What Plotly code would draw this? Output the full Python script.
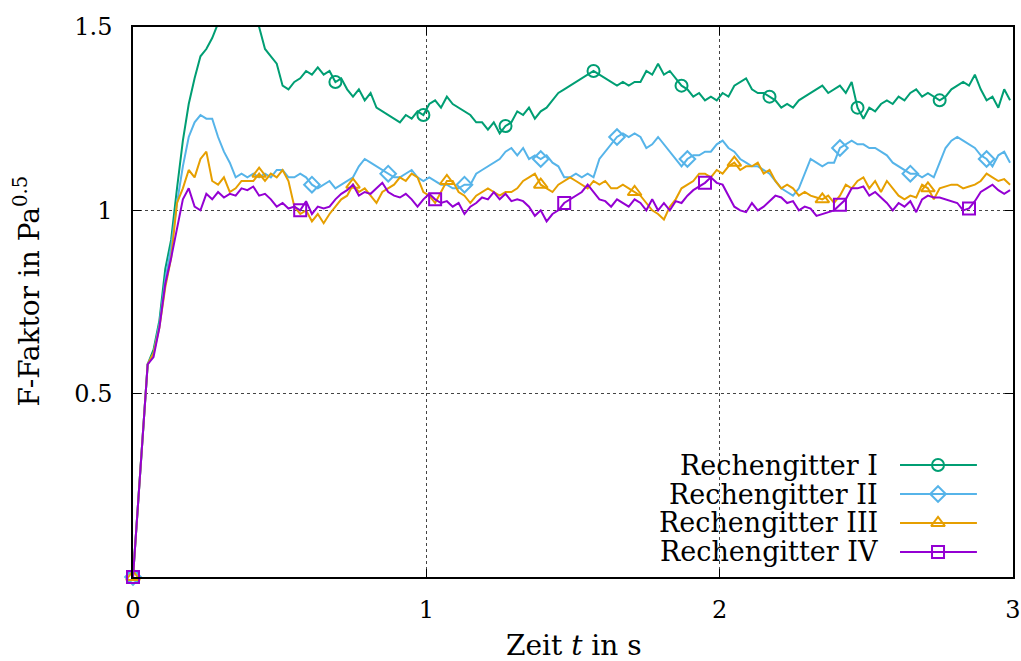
import numpy as np
import plotly.graph_objects as go

# ---------------- data ----------------
# sampling times: t=0 followed by a uniform 0.02 s grid starting at 0.05 s
g1 = [0.58,0.62,0.70,0.84,0.92,1.06,1.19,1.29,1.36,1.42,1.44,1.47,1.51,1.54,1.56,1.57,1.57,1.55,1.52,1.50,
      1.44,1.42,1.40,1.34,1.33,1.35,1.36,1.38,1.37,1.39,1.37,1.38,1.35,1.36,1.33,1.31,1.33,1.30,1.32,1.28,
      1.27,1.26,1.25,1.24,1.26,1.25,1.27,1.26,1.29,1.30,1.28,1.31,1.29,1.28,1.27,1.26,1.24,1.24,1.22,1.24,
      1.21,1.23,1.24,1.27,1.26,1.28,1.25,1.27,1.28,1.30,1.32,1.33,1.34,1.35,1.36,1.37,1.38,1.37,1.36,1.35,
      1.34,1.35,1.34,1.35,1.35,1.38,1.37,1.40,1.37,1.38,1.36,1.34,1.33,1.31,1.32,1.30,1.31,1.30,1.32,1.31,
      1.34,1.35,1.36,1.33,1.32,1.32,1.31,1.30,1.28,1.29,1.28,1.30,1.31,1.32,1.33,1.34,1.32,1.33,1.34,1.32,
      1.35,1.28,1.25,1.28,1.27,1.29,1.30,1.29,1.31,1.30,1.32,1.33,1.31,1.32,1.31,1.30,1.31,1.33,1.34,1.35,
      1.34,1.37,1.33,1.30,1.31,1.28,1.33,1.30]
g2 = [0.58,0.61,0.69,0.81,0.90,1.02,1.12,1.20,1.24,1.26,1.25,1.25,1.20,1.16,1.13,1.09,1.10,1.09,1.10,1.09,
      1.10,1.09,1.11,1.11,1.09,1.09,1.10,1.09,1.07,1.06,1.07,1.08,1.06,1.07,1.08,1.09,1.12,1.14,1.13,1.12,
      1.11,1.10,1.09,1.09,1.10,1.11,1.09,1.08,1.09,1.08,1.07,1.07,1.06,1.06,1.07,1.07,1.10,1.11,1.12,1.13,
      1.14,1.16,1.17,1.15,1.17,1.14,1.15,1.14,1.15,1.13,1.12,1.09,1.09,1.10,1.09,1.10,1.09,1.14,1.16,1.18,
      1.20,1.21,1.20,1.21,1.20,1.17,1.18,1.20,1.18,1.16,1.14,1.12,1.14,1.15,1.15,1.16,1.16,1.18,1.19,1.17,
      1.16,1.14,1.13,1.12,1.12,1.11,1.10,1.08,1.06,1.05,1.04,1.06,1.10,1.14,1.13,1.12,1.13,1.13,1.17,1.18,
      1.19,1.18,1.18,1.17,1.17,1.16,1.15,1.13,1.12,1.11,1.10,1.10,1.09,1.10,1.09,1.13,1.17,1.19,1.20,1.19,
      1.18,1.17,1.15,1.14,1.12,1.15,1.16,1.13]
g3 = [0.58,0.61,0.68,0.79,0.87,1.02,1.06,1.11,1.09,1.14,1.16,1.08,1.07,1.09,1.05,1.06,1.08,1.08,1.08,1.10,
      1.08,1.10,1.09,1.11,1.08,1.01,0.99,1.00,0.97,0.99,0.965,0.99,1.01,1.03,1.04,1.07,1.05,1.06,1.04,1.02,
      1.05,1.06,1.07,1.09,1.08,1.10,1.09,1.05,1.04,1.02,1.05,1.08,1.08,1.05,1.04,1.02,1.04,1.05,1.06,1.05,
      1.04,1.05,1.05,1.06,1.08,1.09,1.10,1.07,1.06,1.05,1.07,1.08,1.09,1.08,1.07,1.06,1.08,1.07,1.08,1.06,
      1.06,1.07,1.06,1.05,1.04,1.02,1.00,0.99,0.975,1.01,1.03,1.06,1.07,1.08,1.10,1.10,1.09,1.11,1.10,1.12,
      1.13,1.11,1.12,1.12,1.13,1.10,1.11,1.08,1.06,1.07,1.06,1.04,1.05,1.04,1.035,1.03,1.04,1.02,1.04,1.07,
      1.06,1.08,1.09,1.06,1.08,1.05,1.08,1.06,1.04,1.03,1.04,1.035,1.07,1.06,1.03,1.06,1.065,1.07,1.07,1.06,
      1.065,1.07,1.08,1.10,1.09,1.08,1.085,1.07]
g4 = [0.58,0.60,0.68,0.80,0.87,0.95,1.03,1.06,1.01,1.00,1.045,1.03,1.05,1.035,1.045,1.04,1.06,1.055,1.065,1.04,
      1.045,1.03,1.01,1.02,1.005,1.01,1.00,1.025,0.99,1.01,1.005,1.01,1.03,1.045,1.055,1.07,1.04,1.05,1.045,1.06,
      1.075,1.05,1.04,1.035,1.045,1.03,1.01,1.03,1.045,1.03,1.02,1.025,1.01,1.02,0.99,1.01,1.02,1.035,1.03,1.05,
      1.03,1.045,1.025,1.03,1.025,1.01,0.985,1.00,0.97,0.99,1.00,1.02,1.03,1.04,1.05,1.07,1.05,1.03,1.025,1.01,
      1.03,1.02,1.01,1.03,1.02,1.00,1.03,1.00,1.02,1.00,1.025,1.02,1.04,1.055,1.065,1.075,1.09,1.075,1.07,1.04,
      1.01,1.00,0.995,1.02,1.00,1.01,1.025,1.04,1.035,1.02,1.025,1.00,1.01,1.005,0.985,0.99,0.995,1.00,1.015,1.03,
      1.06,1.06,1.065,1.04,1.05,1.035,1.02,1.00,1.02,1.01,1.025,0.995,1.03,1.04,1.035,1.035,1.03,1.025,1.02,1.00,
      1.005,1.025,1.05,1.06,1.07,1.055,1.045,1.055]

names = ["Rechengitter I", "Rechengitter II", "Rechengitter III", "Rechengitter IV"]
series = [g1, g2, g3, g4]
colors = ["#009e73", "#56b4e9", "#e69f00", "#9400d3"]
symbols = ["circle-open", "diamond-open", "triangle-up-open", "square-open"]
marker_times = [
    [0, 0.70, 0.99, 1.28, 1.58, 1.87, 2.17, 2.46, 2.76],
    [0, 0.62, 0.88, 1.14, 1.39, 1.65, 1.90, 2.40, 2.65, 2.90],
    [0, 0.43, 0.75, 1.07, 1.39, 1.72, 2.04, 2.36, 2.70],
    [0, 0.57, 1.04, 1.47, 1.95, 2.41, 2.85],
]

x_ticks = [0, 1, 2, 3]
y_ticks = [0.5, 1, 1.5]

fig = go.Figure()
FONT = "DejaVu Serif"

for name, vals, col, sym, mt in zip(names, series, colors, symbols, marker_times):
    t = np.concatenate([[0.0], 0.05 + 0.02 * np.arange(len(vals))])
    y = np.concatenate([[0.0], np.array(vals)])
    fig.add_trace(go.Scatter(x=t, y=y, mode="lines", line=dict(color=col, width=2),
                             showlegend=False, hoverinfo="skip"))
    idx = [int(np.argmin(np.abs(t - m))) for m in mt]
    fig.add_trace(go.Scatter(x=t[idx], y=y[idx], mode="markers", cliponaxis=False,
                             marker=dict(symbol=sym, size=12, color=col, line=dict(color=col, width=2)),
                             showlegend=False, hoverinfo="skip"))

# custom legend (text left of sample, gnuplot style) on an overlay axis
leg_y = [0.2036, 0.1509, 0.0982, 0.0455]
for name, col, sym, ly in zip(names, colors, symbols, leg_y):
    fig.add_trace(go.Scatter(x=[0.8716, 0.959], y=[ly, ly], mode="lines", xaxis="x2", yaxis="y2",
                             line=dict(color=col, width=2), showlegend=False, hoverinfo="skip"))
    fig.add_trace(go.Scatter(x=[0.9148], y=[ly], mode="markers", xaxis="x2", yaxis="y2",
                             marker=dict(symbol=sym, size=12, color=col, line=dict(color=col, width=2)),
                             showlegend=False, hoverinfo="skip"))
    fig.add_annotation(x=0.849, y=ly, xref="paper", yref="paper", text=name, showarrow=False,
                       xanchor="right", yanchor="middle", font=dict(family=FONT, size=27, color="black"))

axis_common = dict(showline=True, linecolor="black", linewidth=1.5, mirror="ticks",
                   ticks="inside", ticklen=8, tickcolor="black", tickwidth=1, automargin=False,
                   showgrid=True, gridcolor="#444", griddash="dot", gridwidth=1,
                   zeroline=False, tickfont=dict(family=FONT, size=24, color="black"))

fig.update_layout(
    width=1021, height=661, autosize=False,
    margin=dict(l=133, r=8, t=27, b=84, autoexpand=False),
    paper_bgcolor="white", plot_bgcolor="white",
    xaxis=dict(range=[0, 3], tickvals=x_ticks, ticklabelstandoff=10, **axis_common),
    yaxis=dict(range=[0, 1.5], tickvals=y_ticks, ticktext=["0.5", "1", "1.5"], ticklabelstandoff=14, **axis_common),
    xaxis2=dict(range=[0, 1], overlaying="x", visible=False, fixedrange=True, automargin=False),
    yaxis2=dict(range=[0, 1], overlaying="y", visible=False, fixedrange=True, automargin=False),
    showlegend=False,
)

fig.add_annotation(x=0.501, y=-0.124, xref="paper", yref="paper", text="Zeit <i>t</i> in s",
                   showarrow=False, xanchor="center", yanchor="middle",
                   font=dict(family=FONT, size=28, color="black"))
fig.add_annotation(x=-0.12, y=0.52, xref="paper", yref="paper", text="F-Faktor in Pa<sup>0.5</sup>",
                   showarrow=False, textangle=-90, xanchor="center", yanchor="middle",
                   font=dict(family=FONT, size=28, color="black"))

fig.write_html("out.html")
